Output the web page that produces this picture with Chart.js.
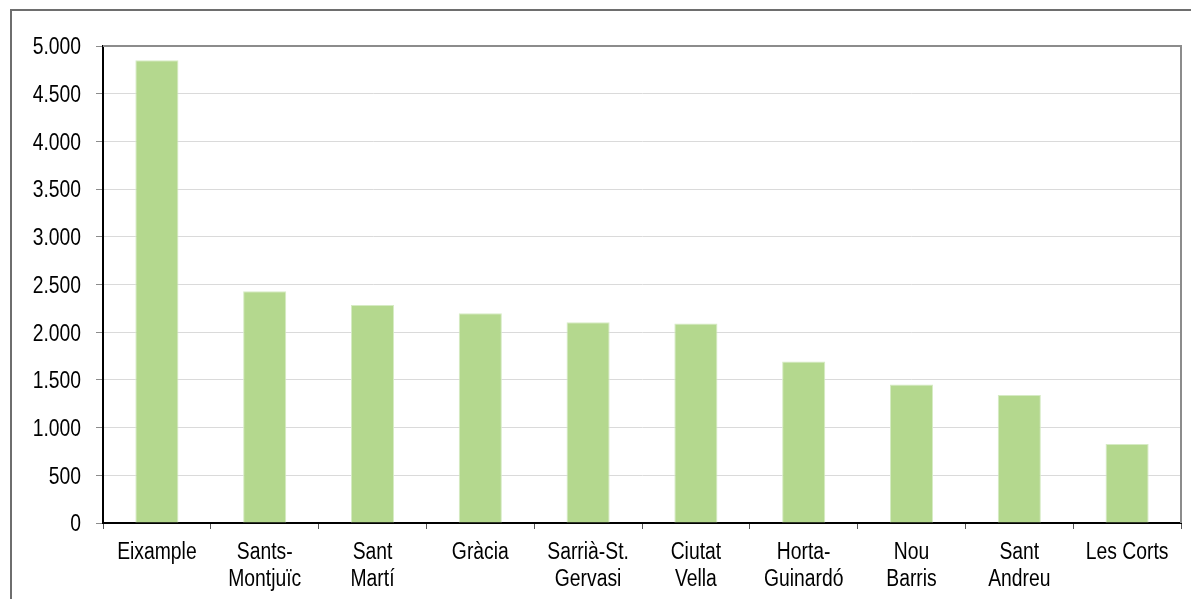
<!DOCTYPE html>
<html>
<head>
<meta charset="utf-8">
<script src="https://cdn.jsdelivr.net/npm/chart.js@4"></script>
<style>
  html, body { margin: 0; padding: 0; background: #fff; }
  #wrap { width: 1191px; height: 599px; }
</style>
</head>
<body>
<div id="wrap"><canvas id="myChart" width="1191" height="599"></canvas></div>
<script>
const districtes = [
    ['Eixample'], ['Sants-', 'Montjuïc'], ['Sant', 'Martí'], ['Gràcia'],
    ['Sarrià-St.', 'Gervasi'], ['Ciutat', 'Vella'], ['Horta-', 'Guinardó'],
    ['Nou', 'Barris'], ['Sant', 'Andreu'], ['Les Corts']
];
const valors = [4850, 2430, 2285, 2198, 2104, 2092, 1694, 1452, 1342, 828];
const yMax = 5000;
const yStep = 500;

const fontFamily = '"Liberation Sans", Arial, sans-serif';
const fontSize = 23;
const estrenyit = 0.84;   // lletra estreta (tipus Arial Narrow)

const formatNum = (v) => v.toLocaleString('de-DE');

// vores: marc exterior i costats superior/dret de l'àrea del gràfic
const vores = {
    id: 'vores',
    afterDraw(chart) {
        const c = chart.ctx;
        const a = chart.chartArea;
        c.save();
        c.strokeStyle = '#6e6e6e';
        c.lineWidth = 2;
        c.beginPath();
        c.moveTo(11, 600);
        c.lineTo(11, 10);
        c.lineTo(1192, 10);
        c.stroke();
        c.strokeStyle = '#8c8c8c';
        c.beginPath();
        c.moveTo(a.left, a.top);
        c.lineTo(a.right, a.top);
        c.lineTo(a.right, a.bottom);
        c.stroke();
        c.restore();
    }
};

// etiquetes dels eixos amb lletra comprimida horitzontalment
const etiquetes = {
    id: 'etiquetes',
    afterDraw(chart) {
        const c = chart.ctx;
        const xs = chart.scales.x;
        const ys = chart.scales.y;
        c.save();
        c.fillStyle = '#000';
        c.font = fontSize + 'px ' + fontFamily;
        c.textBaseline = 'alphabetic';

        c.textAlign = 'right';
        ys.ticks.forEach((t) => {
            const y = ys.getPixelForValue(t.value);
            c.save();
            c.translate(81, y + 8.3);
            c.scale(estrenyit, 1);
            c.fillText(formatNum(t.value), 0, 0);
            c.restore();
        });

        c.textAlign = 'center';
        districtes.forEach((linies, i) => {
            const x = xs.getPixelForValue(i);
            linies.forEach((txt, j) => {
                c.save();
                c.translate(x, 559 + j * 27);
                c.scale(estrenyit, 1);
                c.fillText(txt, 0, 0);
                c.restore();
            });
        });
        c.restore();
    }
};

document.addEventListener("DOMContentLoaded", function () {
    const ctx = document.getElementById('myChart').getContext('2d');
    new Chart(ctx, {
        type: 'bar',
        data: {
            labels: districtes,
            datasets: [{
                data: valors,
                backgroundColor: 'rgb(180, 216, 142)',
                borderColor: 'rgb(214, 235, 196)',
                borderWidth: 1,
                barPercentage: 0.4,
                categoryPercentage: 1.0
            }]
        },
        options: {
            responsive: false,
            animation: false,
            layout: { padding: { left: 0, top: 46, right: 10, bottom: 0 } },
            plugins: { legend: { display: false }, tooltip: { enabled: false } },
            scales: {
                x: {
                    afterFit: (scale) => { scale.height = 76; },
                    grid: {
                        offset: true,
                        drawOnChartArea: false,
                        tickLength: 6,
                        tickColor: '#555'
                    },
                    border: { color: '#000', width: 2 },
                    ticks: { display: false, autoSkip: false }
                },
                y: {
                    min: 0,
                    max: yMax,
                    afterFit: (scale) => { scale.width = 103; },
                    grid: {
                        color: '#dadada',
                        tickLength: 7,
                        tickColor: '#8c8c8c'
                    },
                    border: { color: '#000', width: 2 },
                    ticks: { display: false, stepSize: yStep }
                }
            }
        },
        plugins: [vores, etiquetes]
    });
});
</script>
</body>
</html>
